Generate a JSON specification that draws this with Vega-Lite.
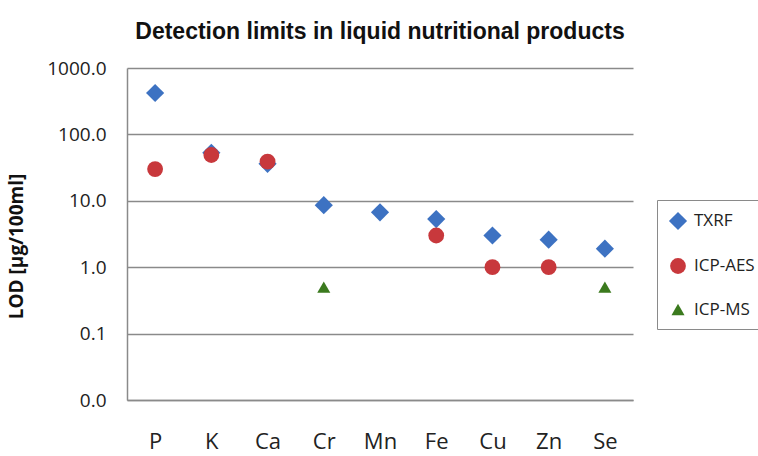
{
  "$schema": "https://vega.github.io/schema/vega-lite/v6.json",
  "width": 506,
  "height": 332,
  "autosize": "none",
  "padding": {"left": 127, "top": 68, "right": 125, "bottom": 56},
  "background": "white",
  "title": {
    "text": "Detection limits in liquid nutritional products",
    "font": "Liberation Sans",
    "fontSize": 23,
    "fontWeight": "bold",
    "color": "#111111",
    "anchor": "middle",
    "offset": 15
  },
  "data": {
    "values": [
      {"element": "P", "method": "TXRF", "lod": 420},
      {"element": "K", "method": "TXRF", "lod": 53},
      {"element": "Ca", "method": "TXRF", "lod": 36},
      {"element": "Cr", "method": "TXRF", "lod": 8.6},
      {"element": "Mn", "method": "TXRF", "lod": 6.7},
      {"element": "Fe", "method": "TXRF", "lod": 5.3},
      {"element": "Cu", "method": "TXRF", "lod": 3.0},
      {"element": "Zn", "method": "TXRF", "lod": 2.6},
      {"element": "Se", "method": "TXRF", "lod": 1.9},
      {"element": "P", "method": "ICP-AES", "lod": 30},
      {"element": "K", "method": "ICP-AES", "lod": 49},
      {"element": "Ca", "method": "ICP-AES", "lod": 39},
      {"element": "Fe", "method": "ICP-AES", "lod": 3.0},
      {"element": "Cu", "method": "ICP-AES", "lod": 1.0},
      {"element": "Zn", "method": "ICP-AES", "lod": 1.0},
      {"element": "Cr", "method": "ICP-MS", "lod": 0.5},
      {"element": "Se", "method": "ICP-MS", "lod": 0.5}
    ]
  },
  "mark": {"type": "point", "filled": true, "opacity": 1},
  "encoding": {
    "x": {
      "field": "element",
      "type": "nominal",
      "sort": ["P", "K", "Ca", "Cr", "Mn", "Fe", "Cu", "Zn", "Se"],
      "scale": {"padding": 0.5},
      "axis": {
        "title": null,
        "labelAngle": 0,
        "labelFont": "Open Sans",
        "labelFontSize": 22,
        "labelColor": "#222222",
        "labelPadding": 31,
        "ticks": false,
        "domainColor": "#8a8a8a",
        "domainWidth": 1.5,
        "grid": false
      }
    },
    "y": {
      "field": "lod",
      "type": "quantitative",
      "scale": {"type": "log", "domain": [0.01, 1000]},
      "axis": {
        "title": "LOD [µg/100ml]",
        "titleFont": "Open Sans",
        "titleFontSize": 19,
        "titleFontWeight": "bold",
        "titleColor": "#111111",
        "titleAngle": -90,
        "titleX": -111,
        "titleY": 178,
        "titleAlign": "center",
        "titleBaseline": "middle",
        "values": [0.01, 0.1, 1, 10, 100, 1000],
        "format": ".1f",
        "labelFont": "Open Sans",
        "labelFontSize": 19,
        "labelColor": "#222222",
        "labelPadding": 21,
        "labelFlush": false,
        "labelOverlap": false,
        "ticks": false,
        "domainColor": "#8a8a8a",
        "domainWidth": 1.5,
        "grid": true,
        "gridColor": "#8a8a8a",
        "gridWidth": 1.5
      }
    },
    "color": {
      "field": "method",
      "type": "nominal",
      "scale": {
        "domain": ["TXRF", "ICP-AES", "ICP-MS"],
        "range": ["#3D72C2", "#C8383C", "#3B7A1E"]
      },
      "legend": {
        "title": null,
        "orient": "none",
        "legendX": 530,
        "legendY": 132,
        "padding": 11,
        "strokeColor": "#8a8a8a",
        "labelFont": "Open Sans",
        "labelFontSize": 17,
        "labelColor": "#222222",
        "symbolSize": 160,
        "rowPadding": 26,
        "labelOffset": 6
      }
    },
    "shape": {
      "field": "method",
      "type": "nominal",
      "scale": {
        "domain": ["TXRF", "ICP-AES", "ICP-MS"],
        "range": ["diamond", "circle", "triangle-up"]
      }
    },
    "size": {
      "field": "method",
      "type": "nominal",
      "scale": {
        "domain": ["TXRF", "ICP-AES", "ICP-MS"],
        "range": [330, 170, 180]
      },
      "legend": null
    }
  },
  "config": {"view": {"stroke": null}}
}
